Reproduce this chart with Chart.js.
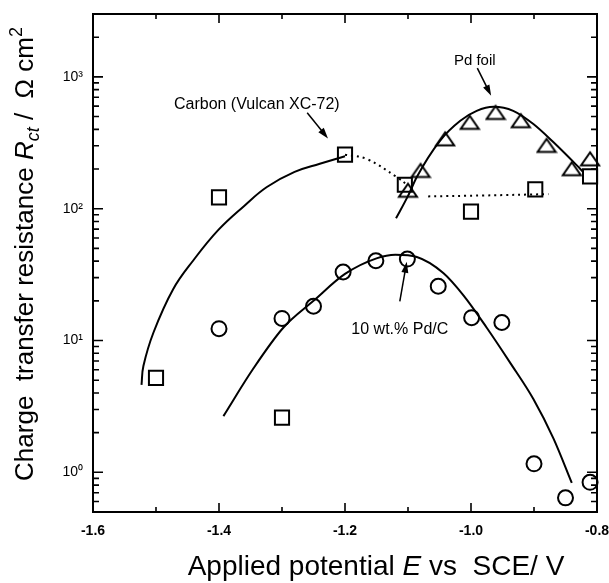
<!DOCTYPE html>
<html>
<head>
<meta charset="utf-8">
<script src="https://cdn.jsdelivr.net/npm/chart.js@4.4.0/dist/chart.umd.min.js"></script>
<style>
  html, body { margin: 0; padding: 0; background: #fff; }
  #wrap { width: 609px; height: 583px; }
</style>
</head>
<body>
<div id="wrap"><canvas id="rct"></canvas></div>
<script>
// ====== DATA ======
const FONT = "'Liberation Sans', Arial, Helvetica, sans-serif";

const xMajor = [-1.6, -1.4, -1.2, -1.0, -0.8];
const xMinor = [-1.5, -1.3, -1.1, -0.9];
const yMajor = [1, 10, 100, 1000];
const yLabels = ["10\u2070", "10\u00b9", "10\u00b2", "10\u00b3"];

// Carbon (Vulcan XC-72), squares
const carbonE = [-1.5, -1.4, -1.3, -1.2, -1.105, -1.0, -0.898, -0.811];
const carbonR = [5.2, 122, 2.6, 257, 152, 95, 140, 176];

// Pd foil, triangles
const foilE = [-1.1, -1.08, -1.041, -1.002, -0.961, -0.921, -0.88, -0.84, -0.811];
const foilR = [138, 195, 339, 452, 537, 465, 302, 201, 239];

// 10 wt.% Pd/C, circles
const pdcE = [-1.4, -1.3, -1.25, -1.203, -1.151, -1.101, -1.052, -0.999, -0.951, -0.9, -0.85, -0.811];
const pdcR = [12.3, 14.7, 18.2, 33.1, 40.3, 41.5, 25.8, 14.9, 13.7, 1.16, 0.64, 0.84];

// fitted curves
const carbonFitE = [-1.523, -1.52, -1.504, -1.473, -1.44, -1.401, -1.36, -1.324, -1.28, -1.24, -1.2];
const carbonFitR = [4.6, 6.4, 11.5, 24.4, 41, 69, 105, 146, 190, 219, 250];

const carbonDotE = [-1.2, -1.166, -1.118, -1.1, null, -1.068, -0.98, -0.877];
const carbonDotR = [257, 239, 174, 150, null, 124, 126, 129];

const foilFitE = [-1.119, -1.1, -1.086, -1.049, -1.017, -0.991, -0.964, -0.933, -0.901, -0.869, -0.832, -0.822];
const foilFitR = [84.5, 125, 174, 329, 465, 553, 593, 553, 439, 319, 213, 190];

const pdcFitE = [-1.393, -1.346, -1.298, -1.25, -1.2, -1.15, -1.12, -1.086, -1.044, -1.012, -0.975, -0.938, -0.901, -0.869, -0.84];
const pdcFitR = [2.67, 6.08, 12.5, 20, 32, 42, 44.7, 43, 32.5, 22, 12.5, 6.8, 3.6, 1.8, 0.83];

// labels with arrows, in data units
const notes = [
  { text: "Carbon (Vulcan XC-72)", size: 16, at: [-1.34, 614], from: [-1.26, 534], to: [-1.227, 341] },
  { text: "Pd foil", size: 15, at: [-0.994, 1318], from: [-0.99, 1167], to: [-0.968, 718] },
  { text: "10 wt.% Pd/C", size: 16, at: [-1.113, 12.2], from: [-1.113, 19.8], to: [-1.102, 39.6] }
];

function pts(xs, ys) {
  return xs.map((v, i) => (v === null ? { x: null, y: null } : { x: v, y: ys[i] }));
}

// open triangle marker, a bit flatter than the built-in one
function triangleMarker() {
  const c = document.createElement("canvas");
  c.width = 22; c.height = 18;
  const g = c.getContext("2d");
  g.strokeStyle = "#000";
  g.lineWidth = 2;
  g.lineJoin = "miter";
  g.beginPath();
  g.moveTo(2, 15.5);
  g.lineTo(20, 15.5);
  g.lineTo(11, 2.5);
  g.closePath();
  g.stroke();
  return c;
}

// ====== FRAME, TICKS, TITLES, NOTES ======
const decorations = {
  id: "decorations",
  afterDatasetsDraw(chart) {
    const { ctx, chartArea: a, scales: { x, y } } = chart;
    ctx.save();
    ctx.strokeStyle = "#000";
    ctx.fillStyle = "#000";

    ctx.lineWidth = 2;
    ctx.strokeRect(a.left, a.top, a.right - a.left, a.bottom - a.top);

    // inward ticks on all four sides
    ctx.lineWidth = 1.6;
    ctx.beginPath();
    const xTick = (v, len) => {
      const px = x.getPixelForValue(v);
      ctx.moveTo(px, a.bottom); ctx.lineTo(px, a.bottom - len);
      ctx.moveTo(px, a.top); ctx.lineTo(px, a.top + len);
    };
    xMajor.forEach(v => xTick(v, 9));
    xMinor.forEach(v => xTick(v, 5));
    for (let e = -1; e <= 3; e++) {
      for (let m = 1; m <= 9; m++) {
        const v = m * Math.pow(10, e);
        if (v < y.min || v > y.max) continue;
        const py = y.getPixelForValue(v);
        const len = m === 1 ? 10 : 6;
        ctx.moveTo(a.left, py); ctx.lineTo(a.left + len, py);
        ctx.moveTo(a.right, py); ctx.lineTo(a.right - len, py);
      }
    }
    ctx.stroke();

    // notes with arrows
    notes.forEach(n => {
      ctx.font = n.size + "px " + FONT;
      ctx.textAlign = "center";
      ctx.textBaseline = "middle";
      ctx.fillText(n.text, x.getPixelForValue(n.at[0]), y.getPixelForValue(n.at[1]));
      const x0 = x.getPixelForValue(n.from[0]), y0 = y.getPixelForValue(n.from[1]);
      const x1 = x.getPixelForValue(n.to[0]), y1 = y.getPixelForValue(n.to[1]);
      const ang = Math.atan2(y1 - y0, x1 - x0);
      ctx.lineWidth = 1.5;
      ctx.beginPath();
      ctx.moveTo(x0, y0);
      ctx.lineTo(x1 - 8 * Math.cos(ang), y1 - 8 * Math.sin(ang));
      ctx.stroke();
      ctx.beginPath();
      ctx.moveTo(x1, y1);
      ctx.lineTo(x1 - 11 * Math.cos(ang) + 3.5 * Math.sin(ang), y1 - 11 * Math.sin(ang) - 3.5 * Math.cos(ang));
      ctx.lineTo(x1 - 11 * Math.cos(ang) - 3.5 * Math.sin(ang), y1 - 11 * Math.sin(ang) + 3.5 * Math.cos(ang));
      ctx.closePath();
      ctx.fill();
    });

    // axis titles with italic symbols, sub- and superscripts
    const runs = (parts, big) => {
      let w = 0;
      parts.forEach(p => {
        ctx.font = (p.it ? "italic " : "") + (p.small ? Math.round(big * 0.68) : big) + "px " + FONT;
        p.w = ctx.measureText(p.t).width;
        w += p.w;
      });
      return w;
    };
    const drawRuns = (parts, big, startX) => {
      let cx = startX;
      parts.forEach(p => {
        ctx.font = (p.it ? "italic " : "") + (p.small ? Math.round(big * 0.68) : big) + "px " + FONT;
        ctx.fillText(p.t, cx, p.dy || 0);
        cx += p.w;
      });
    };
    ctx.textAlign = "left";
    ctx.textBaseline = "alphabetic";

    const xTitle = [
      { t: "Applied potential " },
      { t: "E", it: true },
      { t: " vs  SCE/ V" }
    ];
    const xSize = 28;
    const xw = runs(xTitle, xSize);
    ctx.save();
    ctx.translate(376, 575);
    drawRuns(xTitle, xSize, -xw / 2);
    ctx.restore();

    const yTitle = [
      { t: "Charge  transfer resistance " },
      { t: "R", it: true },
      { t: "ct", it: true, small: true, dy: 6 },
      { t: " /  \u03a9 cm" },
      { t: "2", small: true, dy: -11 }
    ];
    const ySize = 26;
    const yw = runs(yTitle, ySize);
    ctx.save();
    ctx.translate(33, 254);
    ctx.rotate(-Math.PI / 2);
    drawRuns(yTitle, ySize, -yw / 2);
    ctx.restore();

    ctx.restore();
  }
};

// ====== CHART ======
const open = { backgroundColor: "rgba(0,0,0,0)", borderColor: "#000", borderWidth: 2, showLine: false, clip: false };
const fit = { borderColor: "#000", borderWidth: 2, pointRadius: 0, showLine: true, fill: false, tension: 0.4 };

new Chart(document.getElementById("rct"), {
  type: "scatter",
  data: {
    datasets: [
      { ...fit, label: "Carbon fit", data: pts(carbonFitE, carbonFitR) },
      { ...fit, label: "Carbon dotted", data: pts(carbonDotE, carbonDotR), borderDash: [2, 4], spanGaps: false },
      { ...fit, label: "Pd foil fit", data: pts(foilFitE, foilFitR), cubicInterpolationMode: "monotone" },
      { ...fit, label: "Pd/C fit", data: pts(pdcFitE, pdcFitR), cubicInterpolationMode: "monotone" },
      { ...open, label: "Carbon (Vulcan XC-72)", data: pts(carbonE, carbonR), pointStyle: "rect", pointRadius: 10 },
      { ...open, label: "Pd foil", data: pts(foilE, foilR), pointStyle: triangleMarker() },
      { ...open, label: "10 wt.% Pd/C", data: pts(pdcE, pdcR), pointStyle: "circle", pointRadius: 7.5 }
    ]
  },
  options: {
    responsive: true,
    maintainAspectRatio: false,
    animation: false,
    events: [],
    layout: { padding: { top: 14, right: 12, left: 0, bottom: 0 } },
    plugins: { legend: { display: false }, tooltip: { enabled: false } },
    scales: {
      x: {
        type: "linear",
        min: -1.6,
        max: -0.8,
        grid: { display: false, drawTicks: false },
        border: { display: false },
        afterBuildTicks: s => { s.ticks = xMajor.map(v => ({ value: v })); },
        afterFit: s => { s.height = 71; s.paddingLeft = 0; s.paddingRight = 0; },
        ticks: {
          padding: 11,
          color: "#000",
          font: { family: FONT, size: 14, weight: "bold" },
          maxRotation: 0,
          autoSkip: false,
          callback: v => v.toFixed(1)
        }
      },
      y: {
        type: "logarithmic",
        min: 0.5,
        max: 3000,
        grid: { display: false, drawTicks: false },
        border: { display: false },
        afterBuildTicks: s => { s.ticks = yMajor.map(v => ({ value: v })); },
        afterFit: s => { s.width = 93; s.paddingTop = 0; s.paddingBottom = 0; },
        ticks: {
          padding: 10,
          color: "#000",
          font: { family: FONT, size: 14 },
          autoSkip: false,
          callback: v => yLabels[yMajor.indexOf(v)]
        }
      }
    }
  },
  plugins: [decorations]
});
</script>
</body>
</html>
